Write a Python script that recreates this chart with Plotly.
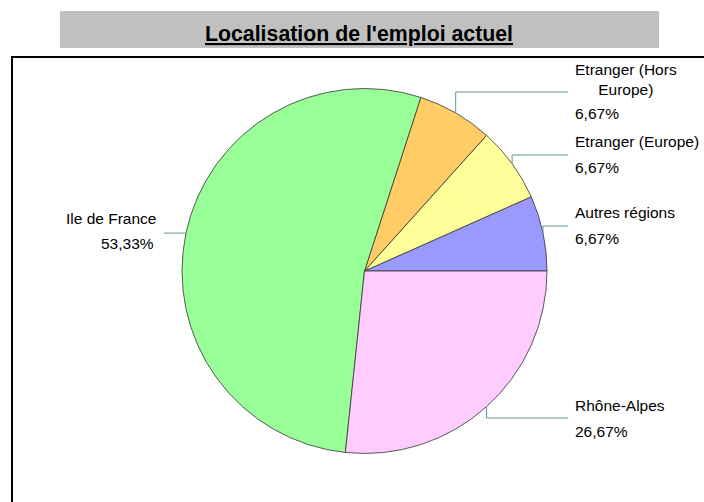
import plotly.graph_objects as go
import math

# ---- data ----
categories = ["Autres régions", "Etranger (Europe)", "Etranger (Hors Europe)", "Ile de France", "Rhône-Alpes"]
label_texts = ["Autres régions", "Etranger (Europe)", "Etranger (Hors<br>Europe)", "Ile de France", "Rhône-Alpes"]
values = [6.67, 6.67, 6.67, 53.33, 26.67]
colors = ["#9999FF", "#FFFF99", "#FFCC66", "#99FF99", "#FFCCFF"]
title_text = "Localisation de l'emploi actuel"

W, H = 704, 502
CX, CY, R = 364.5, 271, 182.5
FONT = "Liberation Sans, Arial, sans-serif"

def px(x):
    return x / W

def py(y):
    return 1 - y / H

# label layout (pixel): side, elbow y, name y, pct y
label_layout = {
    "Autres régions": dict(side="right", elbow=226, name_y=212, pct_y=238),
    "Etranger (Europe)": dict(side="right", elbow=155, name_y=142, pct_y=168),
    "Etranger (Hors Europe)": dict(side="right", elbow=92, name_y=80, pct_y=113),
    "Ile de France": dict(side="left", elbow=None, name_y=218, pct_y=243),
    "Rhône-Alpes": dict(side="right", elbow=418, name_y=405, pct_y=431),
}

total = sum(values)
# plotly (counterclockwise) places the end of the first slice at `rotation`;
# we want the first slice to start at 3 o'clock
rotation = 90 - values[0] / total * 360

fig = go.Figure()
fig.add_trace(go.Pie(
    labels=categories,
    values=values,
    sort=False,
    direction="counterclockwise",
    rotation=rotation,
    marker=dict(colors=colors, line=dict(color="#333333", width=0.8)),
    textinfo="none",
    hoverinfo="label+percent",
    showlegend=False,
    domain=dict(x=[px(CX - R), px(CX + R)], y=[py(CY + R), py(CY - R)]),
))

shapes = []
annotations = []

# frame and title box
shapes.append(dict(type="rect", xref="paper", yref="paper",
                   x0=px(12), x1=1.05, y0=-0.05, y1=py(57),
                   line=dict(color="black", width=2), fillcolor="rgba(0,0,0,0)", layer="below"))
shapes.append(dict(type="rect", xref="paper", yref="paper",
                   x0=px(60), x1=px(659), y0=py(48), y1=py(11),
                   line=dict(width=0), fillcolor="#C0C0C0", layer="below"))
annotations.append(dict(text="<b><u>" + title_text + "</u></b>", xref="paper", yref="paper",
                        x=px(359), y=py(34), showarrow=False, xanchor="center", yanchor="middle",
                        font=dict(family=FONT, size=21.3, color="black")))

cum = 0.0
line_col = "#5E978B"
for cat, txt, v in zip(categories, label_texts, values):
    mid = (cum + v / 2) / total * 2 * math.pi
    cum += v
    ex = CX + R * math.cos(mid)
    ey = CY - R * math.sin(mid)
    lay = label_layout[cat]
    pct = f"{v:.2f}".replace(".", ",") + "%"
    if lay["side"] == "right":
        elb = lay["elbow"]
        path = f"M {px(ex)} {py(ey)} L {px(ex)} {py(elb)} L {px(568)} {py(elb)}"
        shapes.append(dict(type="path", xref="paper", yref="paper", path=path,
                           line=dict(color=line_col, width=1)))
        annotations.append(dict(text=txt, xref="paper", yref="paper", x=px(573), y=py(lay["name_y"]),
                                showarrow=False, xanchor="left", yanchor="middle", align="center",
                                font=dict(family=FONT, size=15.5, color="black")))
        annotations.append(dict(text=pct, xref="paper", yref="paper", x=px(573), y=py(lay["pct_y"]),
                                showarrow=False, xanchor="left", yanchor="middle",
                                font=dict(family=FONT, size=15.5, color="black")))
    else:
        shapes.append(dict(type="line", xref="paper", yref="paper",
                           x0=px(ex), y0=py(ey), x1=px(164), y1=py(ey),
                           line=dict(color=line_col, width=1)))
        annotations.append(dict(text=txt, xref="paper", yref="paper", x=px(158), y=py(lay["name_y"]),
                                showarrow=False, xanchor="right", yanchor="middle",
                                font=dict(family=FONT, size=15.5, color="black")))
        annotations.append(dict(text=pct, xref="paper", yref="paper", x=px(156), y=py(lay["pct_y"]),
                                showarrow=False, xanchor="right", yanchor="middle",
                                font=dict(family=FONT, size=15.5, color="black")))

fig.update_layout(
    width=W, height=H,
    margin=dict(l=0, r=0, t=0, b=0),
    paper_bgcolor="white", plot_bgcolor="white",
    shapes=shapes, annotations=annotations,
)

fig.write_html("out.html", config={"displayModeBar": False},
               post_script="document.body.style.margin='0';")
